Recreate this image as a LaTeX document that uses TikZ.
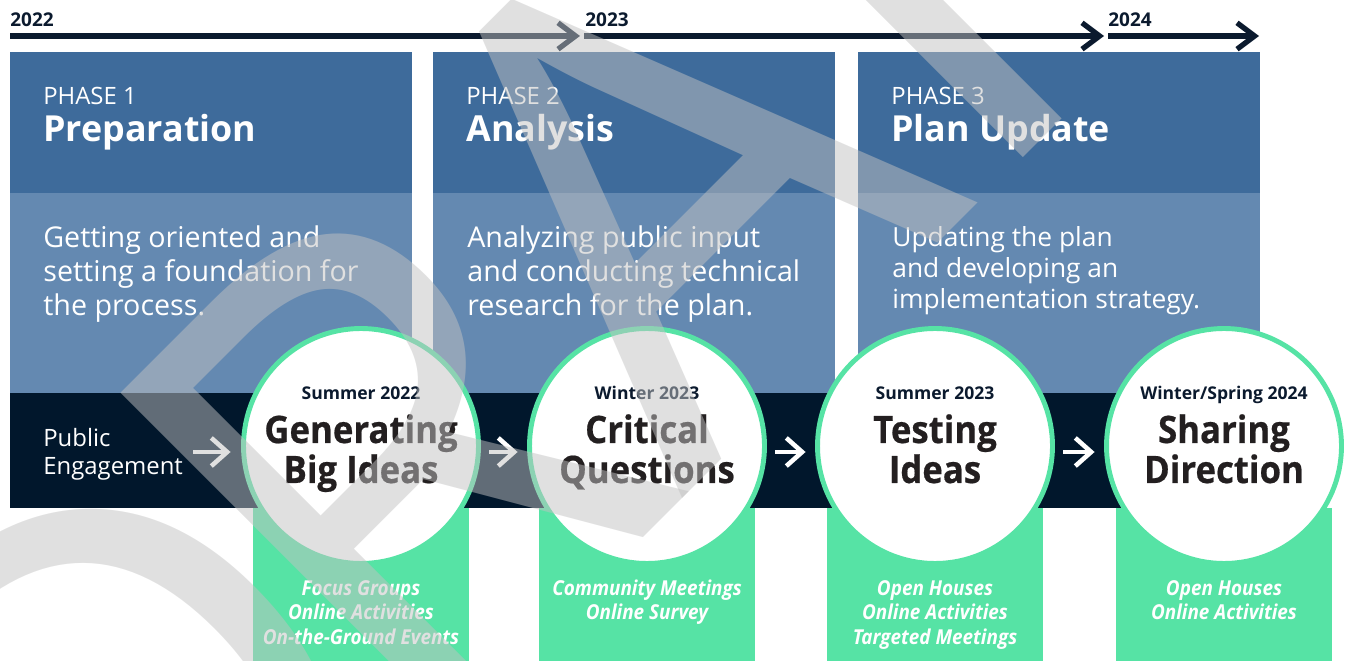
\documentclass[tikz,border=0pt]{standalone}
\usepackage{fontspec}
\setmainfont{Open Sans}
\newfontfamily\condfont{Open Sans}[FakeStretch=0.92]
\newfontfamily\titlefont{Open Sans}[FakeStretch=0.92, BoldFeatures={FakeBold=0.5}]
\usetikzlibrary{arrows.meta}

\definecolor{topblue}{HTML}{3E6B9B}
\definecolor{midblue}{HTML}{6489B1}
\definecolor{navyband}{HTML}{01172C}
\definecolor{linenavy}{HTML}{0B1A2E}
\definecolor{eventgreen}{HTML}{56E3A5}
\definecolor{titleink}{HTML}{231F20}
\definecolor{wmgray}{HTML}{C2C2C2}

\newcommand*{\PhaseBox}[4]{% #1 = left x, #2 = name, #3 = number, #4 = title
\fill[topblue] (#1,52) rectangle ++(402,141);
\fill[midblue] (#1,193) rectangle ++(402,200);
\node[phasenum] (#2num) at (#1+33,105) {PHASE #3};
\node[phasetitle] (#2title) at (#1+33,142) {#4};
}
\newcommand*{\TextLines}[6]{% #1 = style, #2 = x, #3 = first baseline, #4 = step, #5 = name, #6 = lines
\foreach \lbl [count=\i] in {#6} {
\node[#1] (#5\i) at (#2,#3+#4*\i-#4) {\lbl};
}%
}
\newcommand*{\EventCircle}[5]{% #1 = centre x, #2 = name, #3 = date, #4 = title, #5 = activities
\fill[eventgreen] (#1-108,508) rectangle (#1+108,661);
\node[eventcircle] (#2) at (#1,446) {};
\node[eventdate] (#2date) at (#1,400) {#3};
\TextLines{eventtitle}{#1}{443}{40}{#2t}{#4}
\TextLines{eventitem}{#1}{595}{24.5}{#2a}{#5}
}

\begin{document}
\begin{tikzpicture}[x=0.02cm, y=-0.02cm,
    every node/.style={inner sep=0pt},
    year/.style={anchor=base west, text=linenavy, font=\bfseries\fontsize{10.8pt}{13pt}\selectfont},
    timeline/.style={draw=linenavy, line width=3pt, -{Straight Barb[length=10pt,width=15pt]}},
    phasenum/.style={anchor=base west, text=white, font=\fontsize{13.6pt}{15pt}\selectfont},
    phasetitle/.style={anchor=base west, text=white, font=\bfseries\fontsize{20.4pt}{24pt}\selectfont},
    desc/.style={anchor=base west, text=white, font=\fontsize{16.3pt}{19pt}\selectfont},
    descsmall/.style={anchor=base west, text=white, font=\fontsize{15pt}{17pt}\selectfont},
    engage/.style={anchor=base west, text=white, font=\fontsize{13.6pt}{16pt}\selectfont},
    eventcircle/.style={circle, draw=eventgreen, line width=2.8pt, fill=white, minimum size=4.7cm},
    eventdate/.style={anchor=base, text=linenavy, font=\bfseries\fontsize{10pt}{12pt}\selectfont},
    eventtitle/.style={anchor=base, text=titleink, font=\titlefont\bfseries\fontsize{21.5pt}{23pt}\selectfont},
    eventitem/.style={anchor=base, text=white, font=\condfont\bfseries\itshape\fontsize{11.7pt}{14pt}\selectfont},
    flowarrow/.style={draw=white, line width=2.6pt, -{Straight Barb[length=9pt,width=16pt]}},
    watermark/.style={anchor=base west, rotate=45, text=wmgray, opacity=0.5, font=\fontsize{376pt}{380pt}\selectfont}]

\useasboundingbox (0,0) rectangle (1348,661);

% years and timeline
\node[year] (y22) at (10,27) {2022};
\node[year] (y23) at (585,27) {2023};
\node[year] (y24) at (1108,27) {2024};
\coordinate (t0) at (10,36);
\coordinate (t1) at (580,36);
\coordinate (t1b) at (584,36);
\coordinate (t2) at (1104,36);
\coordinate (t2b) at (1108,36);
\coordinate (t3) at (1259,36);
\foreach \a/\b in {t0/t1,t1b/t2,t2b/t3}
\draw[timeline] (\a) -- (\b);

% phase columns
\PhaseBox{10}{p1}{1}{Preparation}
\PhaseBox{433}{p2}{2}{Analysis}
\PhaseBox{858}{p3}{3}{Plan Update}
\TextLines{desc}{43}{248}{34}{d1-}{Getting oriented and,setting a foundation for,the process.}
\TextLines{desc}{467}{248}{34}{d2-}{Analyzing public input,and conducting technical,research for the plan.}
\TextLines{descsmall}{892}{247}{31}{d3-}{Updating the plan,and developing an,implementation strategy.}

% engagement band
\fill[navyband] (10,393) rectangle (1262,508);
\TextLines{engage}{43}{447}{28}{pe}{Public,Engagement}

\EventCircle{361}{c1}{Summer 2022}{Generating,Big Ideas}{Focus Groups,Online Activities,On-the-Ground Events}
\EventCircle{647}{c2}{Winter 2023}{Critical,Questions}{Community Meetings,Online Survey}
\EventCircle{935}{c3}{Summer 2023}{Testing,Ideas}{Open Houses,Online Activities,Targeted Meetings}
\EventCircle{1224}{c4}{Winter/Spring 2024}{Sharing,Direction}{Open Houses,Online Activities}

% arrows between events
\path ([yshift=-0.12cm]c1.west) coordinate (c1in);
\draw[flowarrow, shorten <=0.2cm, shorten >=0.21cm] (pe2.east |- c1in) -- (c1in);
\foreach \a/\b in {c1/c2,c2/c3,c3/c4}
\draw[flowarrow, shorten <=0.17cm, shorten >=0.19cm] ([yshift=-0.12cm]\a.east) -- ([yshift=-0.12cm]\b.west);

% draft stamp
\node[watermark] (draft) at (112,1069) {D\kern-36ptR\kern-12ptAFT};

\end{tikzpicture}
\end{document}
